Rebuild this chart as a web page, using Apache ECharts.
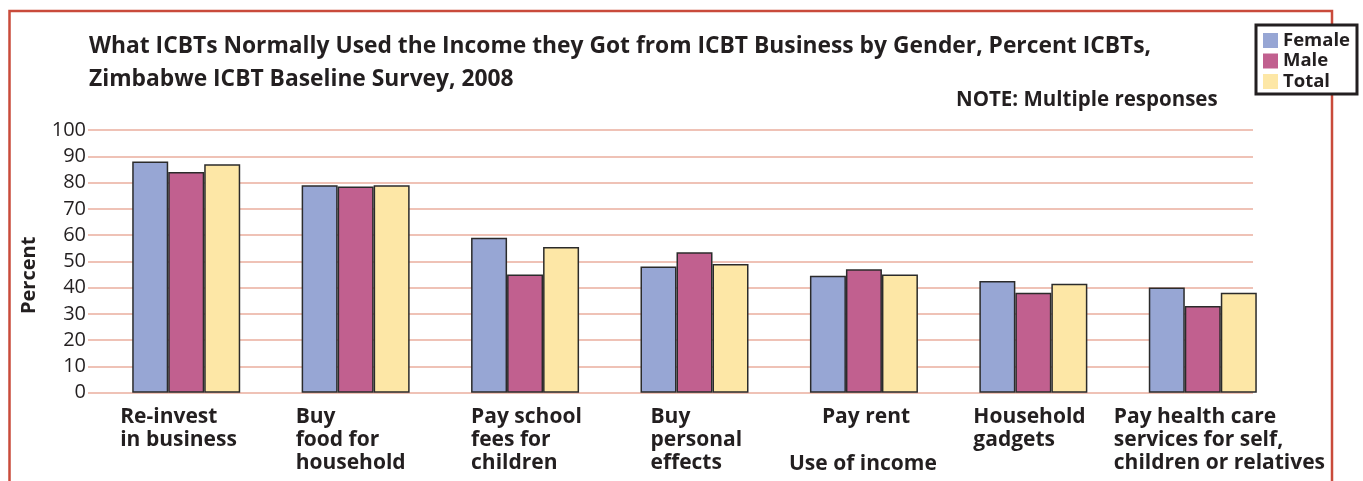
<!DOCTYPE html>
<html><head><meta charset="utf-8">
<script src="https://cdn.jsdelivr.net/npm/echarts@6/dist/echarts.min.js"></script>
<style>html,body{margin:0;padding:0;background:#fff}#c{width:1363px;height:481px}</style>
</head><body><div id="c"></div>
<script>
// ---- data ----
const categories = [
  "Re-invest\nin business",
  "Buy\nfood for\nhousehold",
  "Pay school\nfees for\nchildren",
  "Buy\npersonal\neffects",
  "Pay rent",
  "Household\ngadgets",
  "Pay health care\nservices for self,\nchildren or relatives"
];
const seriesNames = ["Female", "Male", "Total"];
const female = [88, 79, 59, 48, 44.5, 42.5, 40];
const male   = [84, 78.5, 45, 53.5, 47, 38, 33];
const total  = [87, 79, 55.5, 49, 45, 41.5, 38];
const yMin = 0, yMax = 100, yStep = 10;
const titleText = "What ICBTs Normally Used the Income they Got from ICBT Business by Gender, Percent ICBTs,\nZimbabwe ICBT Baseline Survey, 2008";
const noteText = "NOTE: Multiple responses";
const xName = "Use of income";
const yName = "Percent";

// ---- styling ----
const FONT = "'Open Sans', 'Noto Sans', sans-serif";
const INK = "#231f20";
const colors = ["#97a6d4", "#c1608f", "#fde7a6"];
const labelShift = [-66, -60, -54, -44, -42, -60, -89];

const chart = echarts.init(document.getElementById('c'), null, {renderer: 'canvas'});
const values = [female, male, total];

const labelStyle = {align: 'left', fontFamily: FONT, fontWeight: 'bold', fontSize: 21, lineHeight: 23, color: INK};

const option = {
  backgroundColor: '#ffffff',
  animation: false,
  color: colors,
  title: [
    {text: titleText, left: 89, top: 30, padding: 0,
     textStyle: {fontFamily: FONT, fontWeight: 'bold', fontSize: 22.8, lineHeight: 33, color: INK}},
    {text: noteText, left: 956, top: 90, padding: 0,
     textStyle: {fontFamily: FONT, fontWeight: 'bold', fontSize: 20.5, color: INK}},
    {text: xName, left: 789, top: 454, padding: 0,
     textStyle: {fontFamily: FONT, fontWeight: 'bold', fontSize: 21, color: INK}}
  ],
  legend: {
    data: seriesNames,
    orient: 'vertical', left: 1256, top: 25, z: 20,
    padding: [6, 7, 3, 7],
    itemWidth: 15, itemHeight: 15, itemGap: 1.5,
    icon: 'rect',
    borderColor: '#231f20', borderWidth: 3,
    backgroundColor: '#fff',
    textStyle: {fontFamily: FONT, fontWeight: 'bold', fontSize: 18.5, color: INK},
    itemStyle: {borderWidth: 0}
  },
  grid: [
    {left: 101.5, right: 75.5, top: 130, bottom: 88.3, outerBoundsMode: 'none'},
    {left: 88, right: 110, top: 130, bottom: 88.3, outerBoundsMode: 'none', z: 0}
  ],
  xAxis: [
    {type: 'category', gridIndex: 0,
     data: categories.map((c, i) => ({value: c, textStyle: Object.assign({}, labelStyle, {padding: [0, 0, 0, labelShift[i]]})})),
     axisLine: {show: false}, axisTick: {show: false},
     axisLabel: Object.assign({interval: 0, margin: 13}, labelStyle)},
    {type: 'value', gridIndex: 1, min: 0, max: 1, show: false}
  ],
  yAxis: [
    {type: 'value', gridIndex: 0, min: yMin, max: yMax, interval: yStep, show: false},
    {type: 'value', gridIndex: 1, min: yMin, max: yMax, interval: yStep,
     axisLine: {show: false}, axisTick: {show: false},
     splitLine: {show: true, lineStyle: {color: '#efc2b6', width: 2}},
     axisLabel: {margin: 2, fontFamily: FONT, fontSize: 20, color: INK},
     name: yName, nameLocation: 'middle', nameRotate: 90, nameGap: 49,
     nameTextStyle: {fontFamily: FONT, fontWeight: 'bold', fontSize: 20, color: INK, padding: [0, 28, 0, 0]}}
  ],
  graphic: [
    {type: 'polyline', silent: true, z: 1,
     shape: {points: [[9.5, 481], [9.5, 11], [1332, 11], [1332, 481]]},
     style: {stroke: '#c94b3b', lineWidth: 2.5, fill: null}}
  ],
  series: seriesNames.map((n, i) => ({
    name: n, type: 'bar', xAxisIndex: 0, yAxisIndex: 0,
    data: values[i], barWidth: 36, barGap: '0%',
    itemStyle: {color: colors[i], borderColor: '#2b2b2b', borderWidth: 1.5},
    z: 3
  }))
};
chart.setOption(option);
</script>
</body></html>
